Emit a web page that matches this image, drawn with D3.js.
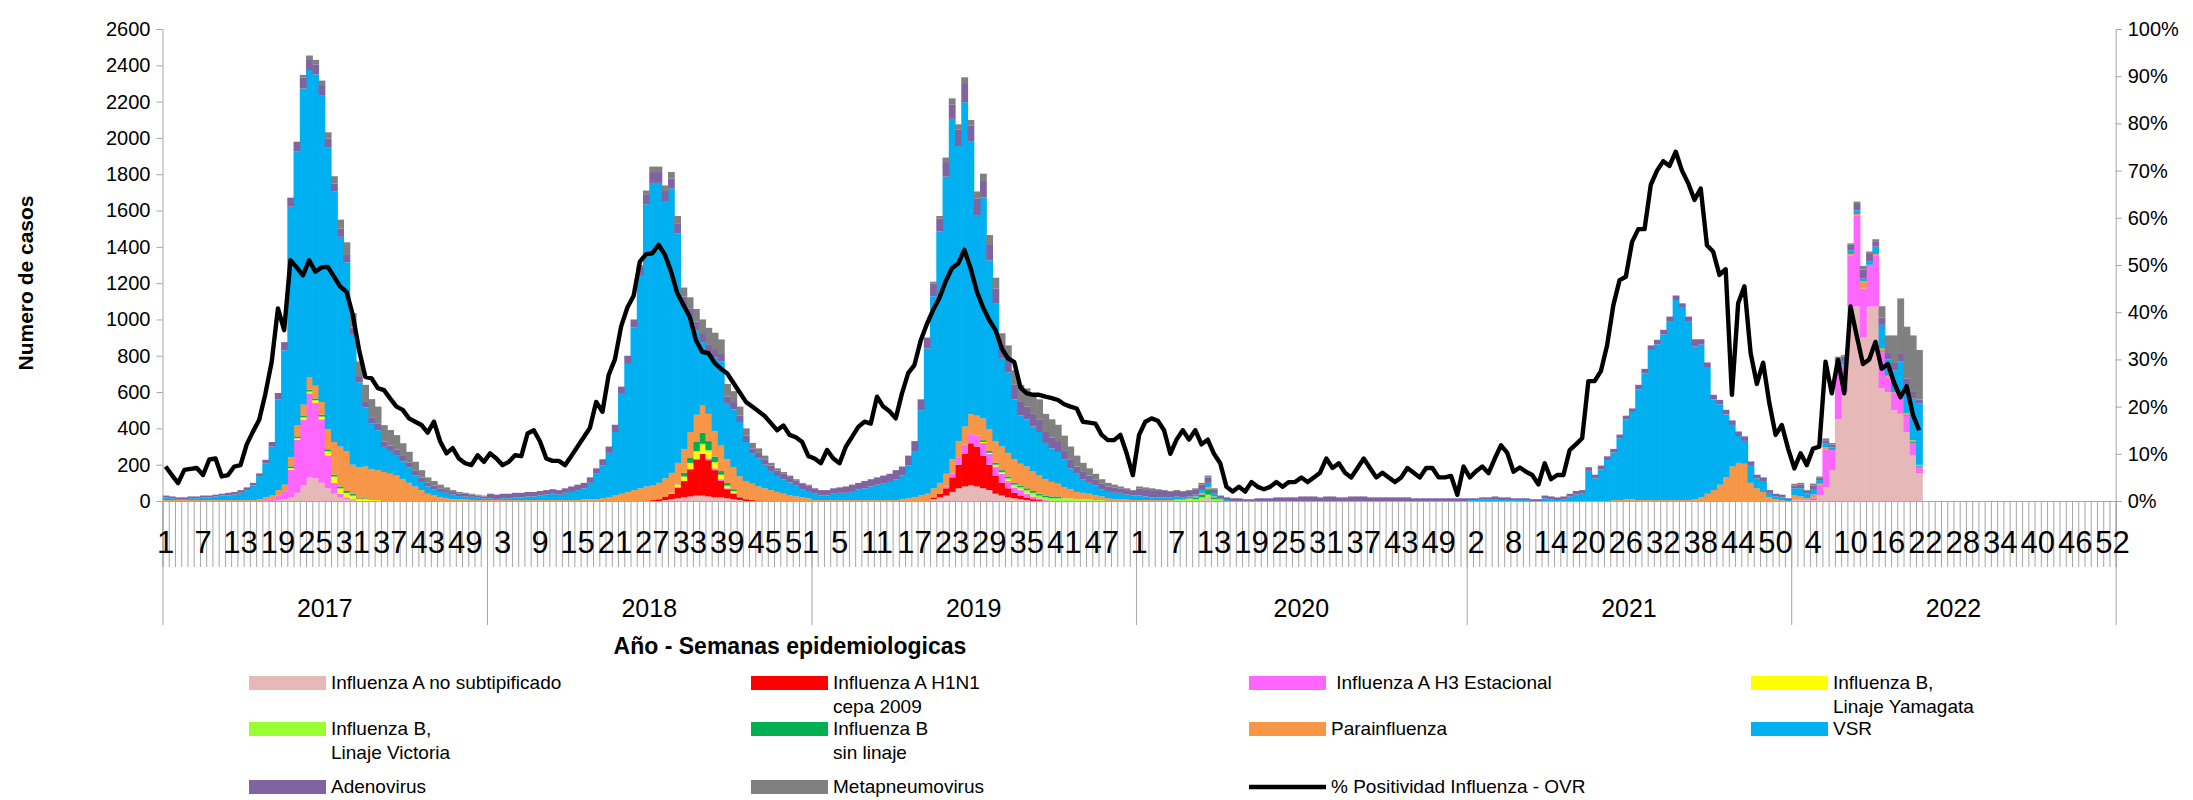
<!DOCTYPE html>
<html>
<head>
<meta charset="utf-8">
<script src="https://cdn.jsdelivr.net/npm/d3@7/dist/d3.min.js"></script>
<style>
  body { margin: 0; background: #fff; }
  text { font-family: "Liberation Sans", Arial, sans-serif; fill: #000; }
  .narrow { font-family: "Liberation Sans Narrow", "Arial Narrow", "Liberation Sans", sans-serif; }
</style>
</head>
<body>
<svg id="chart" width="2193" height="800"></svg>
<script>
// ---- data ----
const years = ["2017", "2018", "2019", "2020", "2021", "2022"];
const weeksPerYear = [52, 52, 52, 53, 52, 52];

// Influenza A no subtipificado
const fluAnoSub = [
  // 2017
  0,0,0,0,0,0,0,0,0,0, 0,0,0,0,0,0,0,0,5,10, 20,45,85,130,125,100,70,40,20,10, 5,0,0,0,0,0,0,0,0,0, 0,0,0,0,0,0,0,0,0,0, 0,0,
  // 2018
  0,0,0,0,0,0,0,0,0,0, 0,0,0,0,0,0,0,0,0,0, 0,0,0,0,0,0,0,0,5,10, 15,20,25,30,30,25,20,20,15,10, 5,0,0,0,0,0,0,0,0,0, 0,0,
  // 2019
  0,0,0,0,0,0,0,0,0,0, 0,0,0,0,0,0,0,0,0,10, 20,30,50,70,80,88,80,70,60,40, 30,20,15,10,5,0,0,0,0,0, 0,0,0,0,0,0,0,0,0,0, 0,0,
  // 2020
  0,0,0,0,0,0,0,0,0,0, 5,10,0,0,0,0,0,0,0,0, 0,0,0,0,0,0,0,0,0,0, 0,0,0,0,0,0,0,0,0,0, 0,0,0,0,0,0,0,0,0,0, 0,0,0,
  // 2021
  0,0,0,0,0,0,0,0,0,0, 0,0,0,0,0,0,0,0,0,0, 0,0,0,0,0,0,0,0,0,0, 0,0,0,0,0,0,0,0,0,0, 0,0,0,0,0,0,0,0,0,0, 0,0,
  // 2022
  5,5,3,8,30,75,170,450,600,1071, 1071,900,1071,1071,620,600,500,480,380,250, 153
];

// Influenza A H1N1 cepa 2009
const fluH1N1 = [
  0,0,0,0,0,0,0,0,0,0, 0,0,0,0,0,0,0,0,0,0, 0,0,0,0,0,0,0,0,0,0, 0,0,0,0,0,0,0,0,0,0, 0,0,0,0,0,0,0,0,0,0, 0,0,
  0,0,0,0,0,0,0,0,0,0, 0,0,0,0,0,0,0,0,0,0, 0,0,0,0,0,0,5,10,20,30, 60,90,150,200,230,200,150,90,50,30, 15,10,5,0,0,0,0,0,0,0, 0,0,
  0,0,0,0,0,0,0,0,0,0, 0,0,0,0,0,0,0,0,0,10, 20,40,80,130,180,230,220,180,140,100, 70,50,30,20,15,10,5,0,0,0, 0,0,0,0,0,0,0,0,0,0, 0,0,
  0,0,0,0,0,0,0,0,0,0, 0,0,0,0,0,0,0,0,0,0, 0,0,0,0,0,0,0,0,0,0, 0,0,0,0,0,0,0,0,0,0, 0,0,0,0,0,0,0,0,0,0, 0,0,0,
  0,0,0,0,0,0,0,0,0,0, 0,0,0,0,0,0,0,0,0,0, 0,0,0,0,0,0,0,0,0,0, 0,0,0,0,0,0,0,0,0,0, 0,0,0,0,0,0,0,0,0,0, 0,0,
  0,0,0,5,0,0,0,0,0,0, 0,0,0,0,0,0,0,0,0,0, 0
];

// Influenza A H3 Estacional
const fluH3 = [
  0,0,0,0,0,0,0,0,0,0, 0,0,0,0,0,0,5,10,25,40, 151,291,361,463,415,350,180,60,20,10, 5,0,0,0,0,0,0,0,0,0, 0,0,0,0,0,0,0,0,0,0, 0,0,
  0,0,0,0,0,0,0,0,0,0, 0,0,0,0,0,0,0,0,0,0, 0,0,0,0,0,0,0,0,0,0, 0,0,0,0,0,10,10,10,5,5, 0,0,0,0,0,0,0,0,0,0, 0,0,
  0,0,0,0,0,0,0,0,0,0, 0,0,0,0,0,0,0,0,0,0, 0,10,20,40,50,50,60,70,60,50, 50,40,30,30,20,15,10,5,0,0, 0,0,0,0,0,0,0,0,0,0, 0,0,
  0,0,0,0,0,0,0,0,0,0, 0,5,0,0,0,0,0,0,0,0, 0,0,0,0,0,0,0,0,0,0, 0,0,0,0,0,0,0,0,0,0, 0,0,0,0,0,0,0,0,0,0, 0,0,0,
  0,0,0,0,0,0,0,0,0,0, 0,0,0,0,0,0,0,0,0,0, 0,0,0,0,0,0,0,0,0,0, 0,0,0,0,0,0,0,0,0,0, 0,0,0,0,0,0,0,0,0,0, 0,0,
  5,5,3,8,60,210,110,280,150,280, 500,270,230,280,200,80,90,110,90,70, 36
];

// Influenza B, Linaje Yamagata
const fluBYam = [
  0,0,0,0,0,0,0,0,0,0, 0,0,0,0,0,0,0,0,0,0, 10,10,15,10,15,15,20,30,25,20, 15,10,10,5,5,0,0,0,0,0, 0,0,0,0,0,0,0,0,0,0, 0,0,
  0,0,0,0,0,0,0,0,0,0, 0,0,0,0,0,0,0,0,0,0, 0,0,0,0,0,0,0,0,0,0, 10,20,30,40,50,40,30,20,10,5, 0,0,0,0,0,0,0,0,0,0, 0,0,
  0,0,0,0,0,0,0,0,0,0, 0,0,0,0,0,0,0,0,0,0, 0,0,0,0,0,0,0,5,5,5, 5,5,5,5,5,5,0,0,0,0, 0,0,0,0,0,0,0,0,0,0, 0,0,
  0,0,0,0,0,0,0,0,0,0, 0,0,0,0,0,0,0,0,0,0, 0,0,0,0,0,0,0,0,0,0, 0,0,0,0,0,0,0,0,0,0, 0,0,0,0,0,0,0,0,0,0, 0,0,0,
  0,0,0,0,0,0,0,0,0,0, 0,0,0,0,0,0,0,0,0,0, 0,0,0,0,0,0,0,0,0,0, 0,0,0,0,0,0,0,0,0,0, 0,0,0,0,0,0,0,0,0,0, 0,0,
  0,0,0,0,0,0,0,0,0,0, 0,0,0,0,0,0,0,0,0,0, 0
];

// Influenza B, Linaje Victoria
const fluBVic = [
  0,0,0,0,0,0,0,0,0,0, 0,0,0,0,0,0,0,0,0,0, 0,0,0,0,0,0,5,5,5,5, 5,0,0,0,0,0,0,0,0,0, 0,0,0,0,0,0,0,0,0,0, 0,0,
  0,0,0,0,0,0,0,0,0,0, 0,0,0,0,0,0,0,0,0,0, 0,0,0,0,0,0,0,0,0,5, 5,5,5,5,5,5,5,5,5,5, 0,0,0,0,0,0,0,0,0,0, 0,0,
  0,0,0,0,0,0,0,0,0,0, 0,0,0,0,0,0,0,0,0,0, 0,0,0,0,0,0,0,0,0,5, 5,10,10,10,15,15,15,15,15,15, 15,15,10,10,10,5,5,0,0,0, 0,0,
  0,0,0,0,0,0,5,5,10,10, 15,20,10,5,0,0,0,0,0,0, 0,0,0,0,0,0,0,0,0,0, 0,0,0,0,0,0,0,0,0,0, 0,0,0,0,0,0,0,0,0,0, 0,0,0,
  0,0,0,0,0,0,0,0,0,0, 0,0,0,0,0,0,0,0,0,0, 0,0,0,0,0,0,0,0,0,0, 0,0,0,0,0,0,0,0,0,0, 0,0,0,0,0,0,0,0,0,0, 0,0,
  0,0,0,0,0,0,0,0,0,0, 0,0,0,0,0,0,0,0,0,0, 0
];

// Influenza B sin linaje
const fluBSin = [
  0,0,0,0,0,0,0,0,0,0, 0,0,0,0,0,0,0,0,0,0, 10,10,10,10,10,10,10,10,10,10, 10,5,5,0,0,0,0,0,0,0, 0,0,0,0,0,0,0,0,0,0, 0,0,
  0,0,0,0,0,0,0,0,0,0, 0,0,0,0,0,0,0,0,0,0, 0,0,0,0,0,0,0,0,0,0, 0,20,30,50,60,50,30,20,15,10, 5,0,0,0,0,0,0,0,0,0, 0,0,
  0,0,0,0,0,0,0,0,0,0, 0,0,0,0,0,0,0,0,0,0, 0,0,0,0,0,0,0,10,10,10, 10,10,10,10,10,10,10,10,10,10, 0,0,0,0,0,0,0,0,0,0, 0,0,
  0,0,0,0,0,0,0,0,0,10, 15,30,10,0,0,0,0,0,0,0, 0,0,0,0,0,0,0,0,0,0, 0,0,0,0,0,0,0,0,0,0, 0,0,0,0,0,0,0,0,0,0, 0,0,0,
  0,0,0,0,0,0,0,0,0,0, 0,0,0,0,0,0,0,0,0,0, 0,0,0,0,0,0,0,0,0,0, 0,0,0,0,0,0,0,0,0,0, 0,0,0,0,0,0,0,0,0,0, 0,0,
  0,0,0,0,0,0,0,0,0,0, 0,0,0,0,5,0,0,0,5,5, 5
];

// Parainfluenza
const parainfluenza = [
  5,5,5,5,5,5,5,5,5,5, 5,5,5,5,5,10,15,20,30,40, 50,60,60,70,70,70,110,180,220,220, 160,170,175,170,165,160,150,140,120,100, 80,60,40,30,20,15,10,10,8,6, 5,5,
  5,5,5,5,5,5,5,5,5,5, 5,5,5,5,5,10,10,10,15,20, 30,40,50,60,70,80,80,90,100,110, 120,130,140,150,150,150,140,140,130,120, 110,100,90,80,70,60,50,40,30,25, 20,15,
  5,5,5,5,5,5,5,5,5,5, 5,5,5,5,10,15,20,30,40,50, 60,70,80,90,100,110,110,120,120,120, 130,130,130,120,120,110,100,90,80,70, 60,50,40,35,30,25,20,15,10,10, 8,5,
  5,5,5,5,5,5,5,5,5,5, 10,10,5,5,0,0,0,0,0,0, 0,0,0,0,0,0,0,0,0,0, 0,0,0,0,0,0,0,0,0,0, 0,0,0,0,0,0,0,0,0,0, 0,0,0,
  0,0,0,0,0,0,0,0,0,0, 0,0,0,0,0,0,0,0,0,0, 0,0,0,5,5,10,10,5,5,5, 5,5,5,5,5,5,10,20,40,60, 90,130,190,210,205,100,70,50,20,10, 5,0,
  20,15,10,15,5,10,0,10,0,10, 10,40,0,10,15,10,10,10,10,10, 5
];

// VSR
const vsr = [
  15,10,5,5,10,10,15,15,20,25, 25,30,40,55,80,127,187,270,500,740, 1380,1508,1741,1691,1715,1691,1551,1379,1155,1040, 715,468,325,251,220,138,126,113,98,86, 61,45,40,35,30,30,25,17,16,17, 13,8,
  10,5,10,10,15,15,20,20,25,30, 35,30,40,45,55,60,90,140,180,245, 350,550,705,895,1170,1555,1667,1652,1523,1567, 1265,791,632,463,350,339,407,465,305,320, 300,215,165,155,130,105,88,80,72,59, 45,40,
  35,25,25,35,40,40,50,60,65,75, 85,90,100,115,130,180,255,470,800,1058, 1385,1637,1875,1625,1787,1501,1105,1218,930,760, 484,442,330,265,260,245,240,200,185,175, 155,115,100,75,60,55,40,35,35,35, 27,25,
  25,20,15,15,15,15,15,10,10,10, 15,25,15,5,5,0,0,0,0,0, 0,0,0,0,0,0,0,0,0,0, 0,0,0,0,0,0,0,0,0,0, 0,0,0,0,0,0,0,0,0,0, 0,0,0,
  5,5,10,10,10,5,5,5,5,5, 0,0,15,10,5,10,25,35,40,166, 125,175,226,262,341,440,480,610,698,827, 858,913,986,1102,1059,986,841,841,698,500, 442,347,229,148,126,98,55,60,25,15, 15,5,
  40,45,25,30,20,20,15,20,20,20, 20,15,20,40,130,90,120,170,150,230, 340
];

// Adenovirus
const adenovirus = [
  10,10,10,10,10,10,10,10,10,10, 15,15,15,15,15,15,20,25,35,45, 50,55,60,60,55,50,50,45,45,40, 40,35,35,35,35,30,30,30,30,25, 25,25,20,20,20,15,15,15,15,12, 12,12,
  25,25,25,25,25,25,25,25,25,25, 25,25,25,30,30,30,30,30,35,35, 40,40,45,45,50,55,60,60,60,55, 55,50,50,50,45,45,45,40,40,40, 35,35,30,30,30,30,30,30,30,30, 30,30,
  30,30,30,30,30,35,35,35,40,40, 40,45,45,50,50,55,55,60,60,70, 70,80,80,90,100,90,90,90,90,80, 80,80,80,80,70,70,70,60,60,60, 50,50,40,40,40,35,30,30,30,25, 25,25,
  40,40,40,35,35,30,30,30,30,30, 30,30,25,15,15,15,15,10,10,15, 15,15,20,20,20,20,25,25,25,20, 25,25,20,20,25,25,25,20,20,20, 20,20,20,20,15,15,15,15,15,15, 15,15,15,
  10,10,10,10,15,15,15,10,10,10, 10,10,15,15,15,15,15,20,20,20, 20,20,20,20,20,20,20,25,25,25, 25,25,25,25,25,25,40,30,25,25, 25,25,25,25,25,20,20,20,15,15, 15,10,
  15,20,15,20,15,20,15,25,25,30, 35,50,40,30,40,40,40,40,40,40, 20
];

// Metapneumovirus
const metapneumovirus = [
  0,0,0,0,0,0,0,0,0,0, 0,0,0,0,0,0,0,0,0,0, 0,0,15,20,25,30,35,40,50,70, 80,80,90,100,95,90,85,80,70,60, 50,40,30,25,20,15,10,8,6,5, 5,5,
  0,0,0,0,0,0,0,0,0,0, 0,0,0,0,0,0,0,0,0,0, 0,0,0,0,10,20,30,30,30,35, 40,50,60,70,80,90,90,80,70,60, 50,40,30,25,20,15,12,10,8,6, 5,5,
  0,0,0,0,0,0,0,0,0,0, 0,0,0,0,0,0,0,0,0,10, 15,25,33,30,37,30,40,40,50,60, 60,70,80,90,100,110,110,100,100,90, 80,70,60,50,40,30,25,20,15,10, 10,5,
  10,10,10,10,5,5,5,5,5,5, 10,10,5,0,0,0,0,0,0,0, 0,0,0,0,0,0,0,0,0,0, 0,0,0,0,0,0,0,0,0,0, 0,0,0,0,0,0,0,0,0,0, 0,0,0,
  0,0,0,0,0,0,0,0,0,0, 0,0,0,0,0,0,0,0,0,0, 0,0,0,0,0,0,0,0,0,0, 0,0,0,0,0,0,0,0,0,0, 0,0,0,0,0,0,0,0,0,0, 0,0,
  10,10,5,10,5,10,9,10,9,8, 13,20,13,11,63,92,152,306,285,307, 273
];

// % Positividad Influenza - OVR
const positividad = [
  7.3,5.5,3.8,6.6,6.8,7.0,5.5,8.8,9.0,5.2, 5.5,7.3,7.6,12,14.7,17.2,22.8,29.5,40.8,36.2, 51,49.5,47.8,51,48.6,49.5,49.6,47.5,45.4,44.3, 39.4,32,26.3,26,23.9,23.5,21.7,20,19.3,17.5, 16.8,16.1,14.5,16.8,12.6,10.1,11.2,9.0,8.0,7.6, 9.7,8.3,
  10.1,9.0,7.6,8.3,9.7,9.5,14.3,15.0,12.6,9.0, 8.5,8.5,7.6,9.5,11.5,13.5,15.5,21.0,18.9,26.7, 30,37,41,43.5,50.7,52.3,52.5,54.3,52.2,48.6, 44,41.5,39,34,31.6,31.3,29.2,28,27,25, 23,21,20,19,18,16.5,15,16,14,13.5, 12.5,9.5,
  9,8,10.8,9,8,11.5,13.6,15.7,16.8,16.4, 22.1,20,19,17.5,22.8,27.1,28.8,34,37.5,40.5, 43,46.5,49.3,50.3,53.2,49.3,44.4,41,38.3,36.2, 32.3,30.2,29.4,24,22.8,22.5,22.5,22.1,21.8,21.4, 20.5,20,19.6,16.8,16.6,16.4,14,12.9,12.9,14, 10.1,5.5,
  14,16.8,17.5,17,15,10,13,15,13,15, 12,13,10,8,3,2,3,2,4,3, 2.5,3,4,3,4,4,5,4,5,6, 9,7,8,6,5,7,9,7,5,6, 5,4,5,7,6,5,7,7,5,5, 5.3,1.3,7.3,
  5.0,6.3,7.3,5.9,9,11.8,10.2,6.2,7.1,6.2, 5.5,3.5,8.0,4.6,5.5,5.5,10.8,12,13.3,25.4, 25.4,27.5,33,41.5,46.8,47.5,54.9,57.6,57.6,67, 70,72,71,74,70,67.3,63.8,66.2,54.2,52.8, 47.9,49.1,22.5,41.9,45.5,31.3,24.8,29.3,20.7,14, 16.1,11.1,
  6.9,10.1,7.6,11.1,11.5,29.5,22.8,29.9,22.8,41.2, 35,29,30,33.7,28,29,25,22,24.3,18.3, 15
];

const casesTicks = d3.range(0, 2601, 200);
const pctTicks = d3.range(0, 101, 10);

// ---- series setup ----
const series = [
  { key: "anoSub", values: fluAnoSub, color: "#E6B9B8", label: ["Influenza A no subtipificado"] },
  { key: "h1n1", values: fluH1N1, color: "#FF0000", label: ["Influenza A H1N1", "cepa 2009"] },
  { key: "h3", values: fluH3, color: "#FF66FF", label: [" Influenza A H3 Estacional"] },
  { key: "bYam", values: fluBYam, color: "#FFFF00", label: ["Influenza B,", "Linaje Yamagata"] },
  { key: "bVic", values: fluBVic, color: "#99FF33", label: ["Influenza B,", "Linaje Victoria"] },
  { key: "bSin", values: fluBSin, color: "#00B050", label: ["Influenza B", "sin linaje"] },
  { key: "para", values: parainfluenza, color: "#F79646", label: ["Parainfluenza"] },
  { key: "vsr", values: vsr, color: "#00B0F0", label: ["VSR"] },
  { key: "adeno", values: adenovirus, color: "#8064A2", label: ["Adenovirus"] },
  { key: "meta", values: metapneumovirus, color: "#808080", label: ["Metapneumovirus"] }
];

const svg = d3.select("#chart");
const plotLeft = 162.5, plotRight = 2115.7, plotTop = 29, plotBottom = 501;
const nWeeks = d3.sum(weeksPerYear);

const x = d3.scaleBand().domain(d3.range(nWeeks)).range([plotLeft, plotRight]).padding(0);
const xl = d3.scaleLinear().domain([0, nWeeks]).range([plotLeft, plotRight]);
const y = d3.scaleLinear().domain([0, 2600]).range([plotBottom, plotTop]);
const y2 = d3.scaleLinear().domain([0, 100]).range([plotBottom, plotTop]);
const bw = x.bandwidth();

// week number of every category
const weekNum = [];
weeksPerYear.forEach(n => { for (let w = 1; w <= n; w++) weekNum.push(w); });

const rows = d3.range(vsr.length).map(i => {
  const r = { i };
  series.forEach(s => r[s.key] = s.values[i] || 0);
  return r;
});
const stacked = d3.stack().keys(series.map(s => s.key))(rows);

// bars
svg.append("g").selectAll("g").data(stacked).join("g")
  .attr("fill", (d, k) => series[k].color)
  .selectAll("rect").data(d => d.filter(p => p[1] - p[0] > 0)).join("rect")
  .attr("x", d => x(d.data.i))
  .attr("width", bw + 0.6)
  .attr("y", d => y(d[1]))
  .attr("height", d => y(d[0]) - y(d[1]));

// left axis
const gl = svg.append("g").attr("transform", `translate(${plotLeft},0)`)
  .call(d3.axisLeft(y).tickValues(casesTicks).tickSize(6).tickPadding(6).tickFormat(d3.format("d")));
gl.selectAll("text").style("font-size", "20px");

// right axis
const gr = svg.append("g").attr("transform", `translate(${plotRight},0)`)
  .call(d3.axisRight(y2).tickValues(pctTicks).tickSize(6).tickPadding(6).tickFormat(d => d + "%"));
gr.selectAll("text").style("font-size", "20px");

// week ticks
const gw = svg.append("g").attr("transform", `translate(0,${plotBottom})`)
  .call(d3.axisBottom(xl).tickValues(d3.range(0, nWeeks + 1)).tickSize(66).tickFormat(""));

// year separators
const yearBounds = [0].concat(Array.from(d3.cumsum(weeksPerYear)));
const gy = svg.append("g").attr("transform", `translate(0,${plotBottom})`)
  .call(d3.axisBottom(xl).tickValues(yearBounds).tickSize(124).tickFormat(""));
gy.select(".domain").remove();

[gl, gr, gw, gy].forEach(g => {
  g.selectAll("line").attr("stroke", "#A6A6A6");
  g.selectAll(".domain").attr("stroke", "#A6A6A6");
});

// week labels
svg.append("g").selectAll("text")
  .data(d3.range(0, nWeeks, 6)).join("text")
  .attr("class", "narrow")
  .attr("x", i => x(i) + bw / 2)
  .attr("y", 553)
  .attr("text-anchor", "middle")
  .style("font-size", "31px")
  .text(i => weekNum[i]);

// year labels
svg.append("g").selectAll("text")
  .data(years).join("text")
  .attr("x", (d, k) => (xl(yearBounds[k]) + xl(yearBounds[k + 1])) / 2)
  .attr("y", 617)
  .attr("text-anchor", "middle")
  .style("font-size", "25px")
  .text(d => d);

// positivity line
svg.append("path").datum(positividad)
  .attr("fill", "none").attr("stroke", "#000").attr("stroke-width", 4.4)
  .attr("stroke-linejoin", "round")
  .attr("d", d3.line().x((d, i) => x(i) + bw / 2).y(d => y2(d)));

// axis titles
svg.append("text")
  .attr("transform", "translate(33,283) rotate(-90)")
  .attr("text-anchor", "middle")
  .style("font-size", "21px").style("font-weight", "bold")
  .text("Numero de casos");

svg.append("text")
  .attr("x", 790).attr("y", 654)
  .attr("text-anchor", "middle")
  .style("font-size", "23px").style("font-weight", "bold")
  .text("Año - Semanas epidemiologicas");

// legend
const legendItems = series.map(s => ({ color: s.color, label: s.label }))
  .concat([{ line: true, label: ["% Positividad Influenza - OVR"] }]);
const colX = [249, 751, 1249, 1751];
const rowY = [683, 729, 787];
const lg = svg.append("g").selectAll("g").data(legendItems).join("g")
  .attr("transform", (d, k) => `translate(${colX[k % 4]},${rowY[Math.floor(k / 4)]})`);
lg.filter(d => !d.line).append("rect")
  .attr("x", 0).attr("y", -7).attr("width", 77).attr("height", 14)
  .attr("fill", d => d.color);
lg.filter(d => d.line).append("line")
  .attr("x1", 0).attr("x2", 77).attr("y1", 0).attr("y2", 0)
  .attr("stroke", "#000").attr("stroke-width", 4.4);
lg.append("text")
  .attr("x", 82).attr("y", 6)
  .style("font-size", "19px")
  .style("white-space", "pre")
  .selectAll("tspan").data(d => d.label).join("tspan")
  .attr("x", 82).attr("dy", (d, j) => j ? 24 : 0)
  .text(d => d);
</script>
</body>
</html>
